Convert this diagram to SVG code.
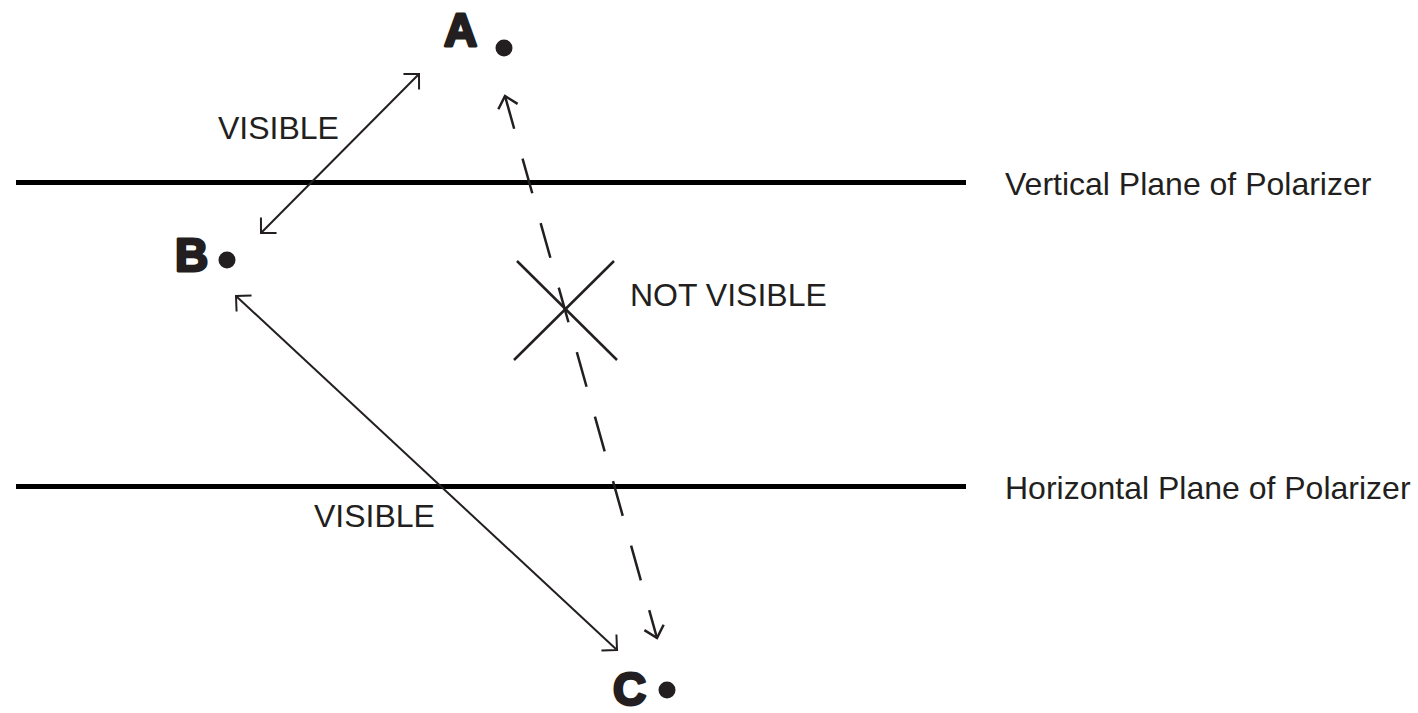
<svg xmlns="http://www.w3.org/2000/svg" width="1418" height="713" viewBox="0 0 1418 713">
  <style>
    .plane { stroke: #000; stroke-width: 5; fill: none; }
    .lbl { font-family: "Liberation Sans", Arial, sans-serif; font-size: 32px; fill: #231f20; }
    .pt { font-family: "Liberation Sans", Arial, sans-serif; font-weight: bold; font-size: 46px; fill: #231f20; stroke: #231f20; stroke-width: 2.8; stroke-linejoin: round; }
    .dot { fill: #231f20; }
    .arrow { stroke: #231f20; stroke-width: 2; fill: none; }
    .dash { stroke: #231f20; stroke-width: 2.5; fill: none; stroke-dasharray: 36 31; }
    .cross { stroke: #231f20; stroke-width: 2.5; fill: none; }
  </style>
  <defs>
    <marker id="head" markerUnits="userSpaceOnUse" viewBox="-20 -20 40 40" markerWidth="40" markerHeight="40" refX="0" refY="0" orient="auto-start-reverse">
      <path d="M -11,-11 L 0,0 L -11,11" fill="none" stroke="#231f20" stroke-width="2" stroke-dasharray="none"/>
    </marker>
    <marker id="headD" markerUnits="userSpaceOnUse" viewBox="-20 -20 40 40" markerWidth="40" markerHeight="40" refX="0" refY="0" orient="auto-start-reverse">
      <path d="M -11,-10 L 0,0 L -11,10" fill="none" stroke="#231f20" stroke-width="2.5" stroke-dasharray="none"/>
    </marker>
  </defs>
  <rect width="1418" height="713" fill="#fff"/>

  <g id="vertical-plane">
    <line class="plane" x1="16" y1="182.5" x2="966" y2="182.5"/>
    <text class="lbl" x="1005" y="195">Vertical Plane of Polarizer</text>
  </g>
  <g id="horizontal-plane">
    <line class="plane" x1="16" y1="486.5" x2="966" y2="486.5"/>
    <text class="lbl" x="1005" y="499">Horizontal Plane of Polarizer</text>
  </g>

  <g id="node-A">
    <text class="pt" x="444" y="46">A</text>
    <circle class="dot" cx="504" cy="48" r="8.5"/>
  </g>
  <g id="node-B">
    <text class="pt" x="175" y="271">B</text>
    <circle class="dot" cx="227" cy="260" r="8.5"/>
  </g>
  <g id="node-C">
    <text class="pt" x="613" y="705">C</text>
    <circle class="dot" cx="667" cy="690" r="8.5"/>
  </g>

  <g id="connectors">
    <line class="arrow" x1="419" y1="74" x2="261" y2="233" marker-start="url(#head)" marker-end="url(#head)"/>
    <line class="arrow" x1="236" y1="296" x2="617" y2="650" marker-start="url(#head)" marker-end="url(#head)"/>
    <line class="dash" x1="505" y1="96" x2="657" y2="638" stroke-dashoffset="2" marker-start="url(#headD)" marker-end="url(#headD)"/>
  </g>

  <g id="not-visible-mark">
    <line class="cross" x1="517" y1="261" x2="617" y2="360"/>
    <line class="cross" x1="614" y1="261" x2="514" y2="360"/>
  </g>

  <g id="labels">
    <text class="lbl" x="218" y="139">VISIBLE</text>
    <text class="lbl" x="314" y="527">VISIBLE</text>
    <text class="lbl" x="630" y="306">NOT VISIBLE</text>
  </g>
</svg>
